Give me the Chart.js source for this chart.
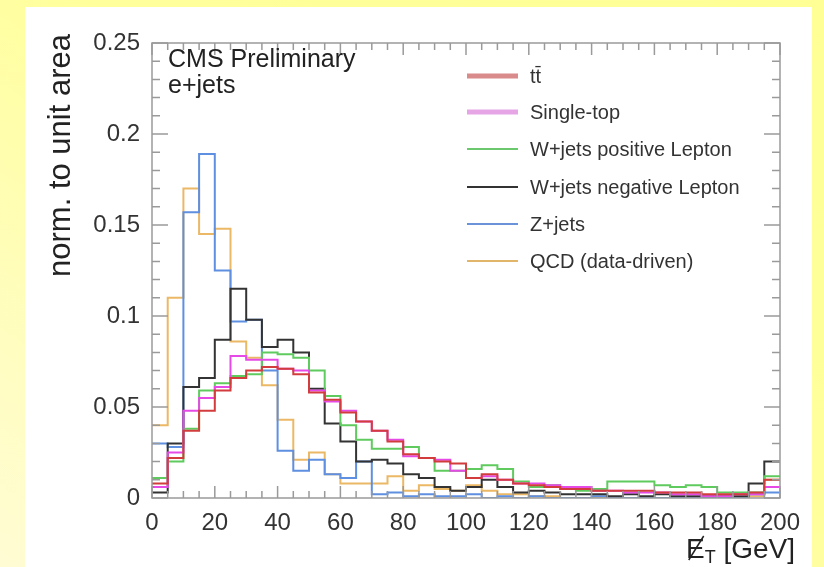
<!DOCTYPE html>
<html>
<head>
<meta charset="utf-8">
<script src="https://cdn.jsdelivr.net/npm/chart.js@4.4.1/dist/chart.umd.min.js"></script>
<style>
  html, body { margin: 0; padding: 0; }
  body {
    width: 824px; height: 567px; overflow: hidden; position: relative;
    background: linear-gradient(to bottom left, #ffff96 0%, #ffff9c 45%, #fffcd4 100%);
  }
  #panel { position: absolute; left: 25px; top: 7px; width: 787px; height: 560px; background: #fff; }
  #met { position: absolute; left: 0; top: 0; }
</style>
</head>
<body>
<div id="panel"></div>
<canvas id="met" width="824" height="567"></canvas>
<script>
'use strict';

// MET distributions, e+jets, 5 GeV bins from 0 to 200
const binWidth = 5;

const ttbar = [0.008, 0.022, 0.037, 0.048, 0.059, 0.066, 0.070, 0.072, 0.071, 0.068,
  0.058, 0.054, 0.047, 0.042, 0.037, 0.031, 0.024, 0.022, 0.020, 0.019,
  0.011, 0.013, 0.010, 0.008, 0.007, 0.006, 0.005, 0.005, 0.004, 0.004,
  0.004, 0.004, 0.003, 0.003, 0.003, 0.002, 0.002, 0.002, 0.003, 0.010];
const singleTop = [0.006, 0.025, 0.048, 0.055, 0.061, 0.078, 0.076, 0.076, 0.071, 0.070,
  0.059, 0.053, 0.048, 0.042, 0.037, 0.032, 0.023, 0.022, 0.021, 0.015,
  0.011, 0.012, 0.010, 0.008, 0.008, 0.007, 0.006, 0.006, 0.004, 0.004,
  0.003, 0.003, 0.003, 0.002, 0.002, 0.001, 0.001, 0.002, 0.002, 0.006];
const wPos = [0.011, 0.020, 0.038, 0.059, 0.063, 0.067, 0.068, 0.080, 0.079, 0.077,
  0.070, 0.056, 0.040, 0.032, 0.027, 0.027, 0.028, 0.022, 0.015, 0.015,
  0.016, 0.018, 0.016, 0.009, 0.006, 0.007, 0.005, 0.004, 0.005, 0.009,
  0.009, 0.009, 0.007, 0.006, 0.007, 0.006, 0.003, 0.003, 0.003, 0.012];
const wNeg = [0.003, 0.030, 0.061, 0.066, 0.087, 0.115, 0.098, 0.083, 0.087, 0.080,
  0.060, 0.041, 0.031, 0.020, 0.021, 0.019, 0.013, 0.011, 0.006, 0.004,
  0.006, 0.010, 0.006, 0.003, 0.004, 0.003, 0.002, 0.002, 0.002, 0.001,
  0.002, 0.001, 0.002, 0.001, 0.001, 0.001, 0.001, 0.001, 0.008, 0.020];
const zJets = [0.030, 0.028, 0.157, 0.189, 0.125, 0.097, 0.098, 0.070, 0.026, 0.015,
  0.021, 0.013, 0.011, 0.020, 0.002, 0.003, 0.001, 0.002, 0.001, 0.001,
  0.002, 0.000, 0.001, 0.000, 0.001, 0.000, 0.000, 0.000, 0.001, 0.000,
  0.000, 0.000, 0.000, 0.000, 0.000, 0.000, 0.000, 0.000, 0.002, 0.003];
const qcd = [0.040, 0.110, 0.170, 0.145, 0.148, 0.086, 0.077, 0.062, 0.043, 0.021,
  0.025, 0.013, 0.008, 0.008, 0.008, 0.012, 0.004, 0.007, 0.005, 0.004,
  0.007, 0.004, 0.002, 0.002, 0.001, 0.001, 0.000, 0.000, 0.000, 0.000,
  0.000, 0.000, 0.000, 0.000, 0.000, 0.000, 0.000, 0.000, 0.001, 0.010];

const seriesNames = ['tt\u0304', 'Single-top', 'W+jets positive Lepton',
  'W+jets negative Lepton', 'Z+jets', 'QCD (data-driven)'];

// histogram outline: one point per left bin edge + closing point at the last edge
function toSteps(values) {
  const pts = values.map((v, i) => ({ x: i * binWidth, y: v }));
  pts.push({ x: values.length * binWidth, y: values[values.length - 1] });
  return pts;
}

const FONT = '"Liberation Sans", Arial, Helvetica, sans-serif';

function histo(label, values, color, legendColor, legendWidth) {
  return {
    label: label,
    data: toSteps(values),
    borderColor: color,
    borderWidth: 2,
    stepped: true,
    pointRadius: 0,
    fill: false,
    legendColor: legendColor,
    legendWidth: legendWidth
  };
}

// frame, inward ROOT-style ticks, labels and legend
const rootStyle = {
  id: 'rootStyle',
  afterDatasetsDraw(chart) {
    const { ctx, chartArea: a, scales: { x, y } } = chart;
    ctx.save();
    ctx.strokeStyle = '#9a9a9a';
    ctx.lineWidth = 1.5;
    ctx.strokeRect(a.left, a.top, a.right - a.left, a.bottom - a.top);

    ctx.beginPath();
    for (let v = 0; v <= 200; v += 5) {
      const px = x.getPixelForValue(v);
      const len = v % 20 === 0 ? 12 : 7;
      ctx.moveTo(px, a.bottom); ctx.lineTo(px, a.bottom - len);
      ctx.moveTo(px, a.top); ctx.lineTo(px, a.top + len);
    }
    for (let k = 0; k <= 25; k++) {
      const py = y.getPixelForValue(k / 100);
      const len = k % 5 === 0 ? 16 : 8;
      ctx.moveTo(a.left, py); ctx.lineTo(a.left + len, py);
      ctx.moveTo(a.right, py); ctx.lineTo(a.right - len, py);
    }
    ctx.stroke();

    // y axis title
    ctx.fillStyle = '#222';
    ctx.save();
    ctx.translate(61, a.top - 9);
    ctx.rotate(-Math.PI / 2);
    ctx.font = '31px ' + FONT;
    ctx.textAlign = 'right';
    ctx.textBaseline = 'middle';
    ctx.fillText('norm. to unit area', 0, 0);
    ctx.restore();

    // x axis title: missing E_T
    ctx.font = '28px ' + FONT;
    ctx.textBaseline = 'alphabetic';
    ctx.textAlign = 'left';
    const rest = ' [GeV]';
    const wRest = ctx.measureText(rest).width;
    const wE = ctx.measureText('E').width;
    ctx.font = '18px ' + FONT;
    const wT = ctx.measureText('T').width;
    const right = 795, base = 558;
    const xE = right - wRest - wT - wE;
    ctx.font = '28px ' + FONT;
    ctx.fillText('E', xE, base);
    ctx.fillText(rest, right - wRest, base);
    ctx.font = '18px ' + FONT;
    ctx.fillText('T', xE + wE, base + 5);
    ctx.strokeStyle = '#222';
    ctx.lineWidth = 1.5;
    ctx.beginPath();
    ctx.moveTo(xE + wE * 0.95, base - 22);
    ctx.lineTo(xE + wE * 0.15, base + 2);
    ctx.stroke();

    // labels
    ctx.font = '25px ' + FONT;
    ctx.fillText('CMS Preliminary', 168, 67);
    ctx.fillText('e+jets', 168, 93);

    // legend
    const rowY = [76, 112, 149, 187, 224, 261];
    ctx.font = '20px ' + FONT;
    ctx.textBaseline = 'middle';
    chart.data.datasets.forEach((ds, i) => {
      ctx.strokeStyle = ds.legendColor;
      ctx.lineWidth = ds.legendWidth;
      ctx.beginPath();
      ctx.moveTo(467, rowY[i]);
      ctx.lineTo(518, rowY[i]);
      ctx.stroke();
      ctx.fillStyle = '#333';
      ctx.fillText(ds.label, 530, rowY[i] + 1);
    });
    ctx.restore();
  }
};

const ctxMet = document.getElementById('met').getContext('2d');

new Chart(ctxMet, {
  type: 'line',
  data: {
    datasets: [
      histo(seriesNames[0], ttbar, '#d23c3c', '#d98a8a', 5),
      histo(seriesNames[1], singleTop, '#e64ae6', '#e6a6e6', 5),
      histo(seriesNames[2], wPos, '#5fcb5f', '#6cc86c', 2),
      histo(seriesNames[3], wNeg, '#333333', '#333333', 2),
      histo(seriesNames[4], zJets, '#5e8fe0', '#6b93da', 2),
      histo(seriesNames[5], qcd, '#ebb865', '#e2b66a', 2)
    ]
  },
  options: {
    responsive: false,
    animation: false,
    devicePixelRatio: 1,
    layout: { padding: { top: 43, right: 44, left: 0, bottom: 0 } },
    plugins: {
      legend: { display: false },
      tooltip: { enabled: false }
    },
    scales: {
      x: {
        type: 'linear',
        min: 0,
        max: 200,
        grid: { display: false },
        border: { display: false },
        ticks: {
          stepSize: 20,
          padding: 3,
          maxRotation: 0,
          autoSkip: false,
          color: '#333',
          font: { family: FONT, size: 24 }
        },
        afterFit: (s) => { s.height = 69; }
      },
      y: {
        min: 0,
        max: 0.25,
        grid: { display: false },
        border: { display: false },
        ticks: {
          stepSize: 0.05,
          padding: 4,
          color: '#333',
          font: { family: FONT, size: 24 },
          callback: (v) => String(+v.toFixed(2))
        },
        afterFit: (s) => { s.width = 152; }
      }
    }
  },
  plugins: [rootStyle]
});
</script>
</body>
</html>
